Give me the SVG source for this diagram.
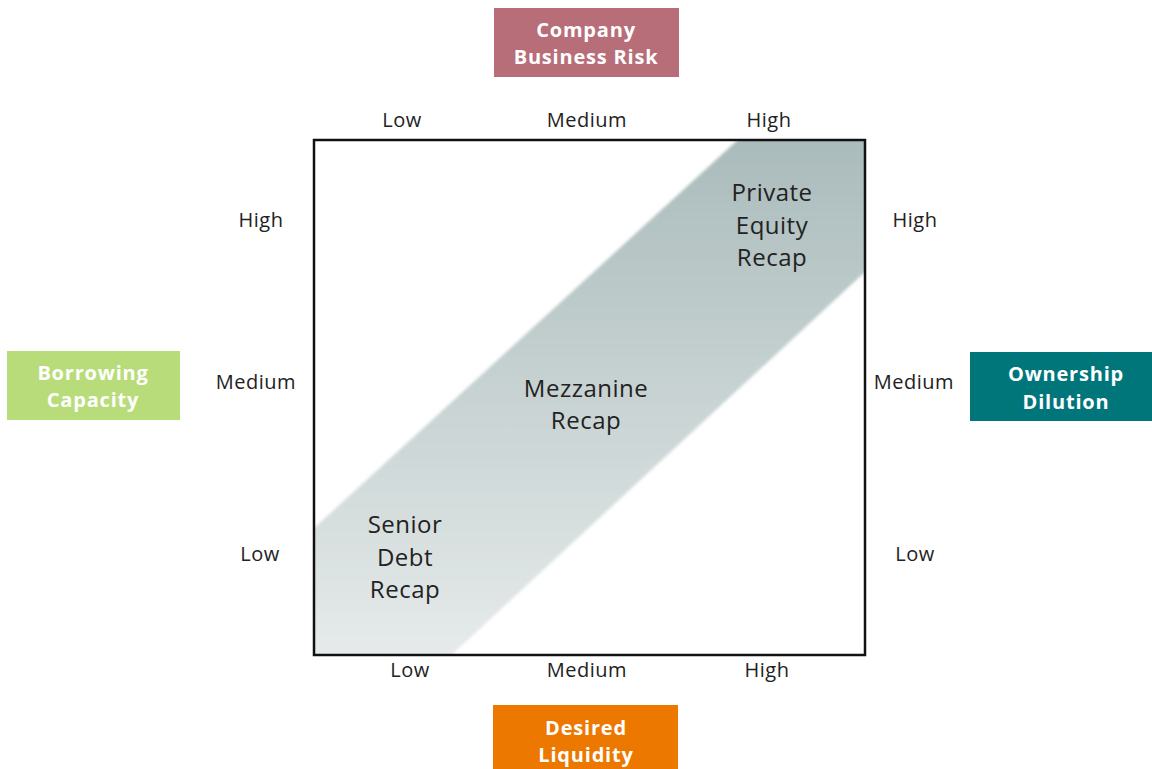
<svg xmlns="http://www.w3.org/2000/svg" width="1152" height="769" viewBox="0 0 1152 769">
  <style>
    .axis { font-family: "Open Sans", Lato, "Liberation Sans", sans-serif; font-size: 20px; letter-spacing: 0.5px; fill: #222; text-anchor: middle; dominant-baseline: central; }
    .zone { font-family: "Open Sans", Lato, "Liberation Sans", sans-serif; font-size: 24px; letter-spacing: 0.5px; fill: #222; text-anchor: middle; dominant-baseline: central; }
    .head { font-family: "Open Sans", Lato, "Liberation Sans", sans-serif; font-size: 20px; letter-spacing: 0.8px; font-weight: bold; fill: #fff; text-anchor: middle; dominant-baseline: central; }
  </style>
  <defs>
    <linearGradient id="band" x1="0" y1="140" x2="0" y2="655" gradientUnits="userSpaceOnUse">
      <stop offset="0" stop-color="#aabbbb"/>
      <stop offset="1" stop-color="#e6eaea"/>
    </linearGradient>
    <clipPath id="boxclip">
      <rect x="314" y="140" width="551" height="515"/>
    </clipPath>
    <filter id="soft" x="-5%" y="-5%" width="110%" height="110%">
      <feGaussianBlur stdDeviation="1.5"/>
    </filter>
  </defs>
  <rect width="1152" height="769" fill="#fff"/>

  <g id="matrix">
    <g clip-path="url(#boxclip)">
      <polygon points="300,541 742,136 880,136 880,258 446,660 300,660" fill="url(#band)" filter="url(#soft)"/>
    </g>
    <rect x="314" y="140" width="551" height="515" fill="none" stroke="#111" stroke-width="2.5"/>
  </g>

  <g id="zone-private-equity">
    <text class="zone" x="772" y="191">Private</text>
    <text class="zone" x="772" y="224">Equity</text>
    <text class="zone" x="772" y="256">Recap</text>
  </g>
  <g id="zone-mezzanine">
    <text class="zone" x="586" y="387">Mezzanine</text>
    <text class="zone" x="586" y="419">Recap</text>
  </g>
  <g id="zone-senior-debt">
    <text class="zone" x="405" y="523">Senior</text>
    <text class="zone" x="405" y="556">Debt</text>
    <text class="zone" x="405" y="588">Recap</text>
  </g>

  <g id="axis-top">
    <text class="axis" x="402" y="119">Low</text>
    <text class="axis" x="587" y="119">Medium</text>
    <text class="axis" x="769" y="119">High</text>
  </g>
  <g id="axis-bottom">
    <text class="axis" x="410" y="669">Low</text>
    <text class="axis" x="587" y="669">Medium</text>
    <text class="axis" x="767" y="669">High</text>
  </g>
  <g id="axis-left">
    <text class="axis" x="261" y="219">High</text>
    <text class="axis" x="256" y="381">Medium</text>
    <text class="axis" x="260" y="553">Low</text>
  </g>
  <g id="axis-right">
    <text class="axis" x="915" y="219">High</text>
    <text class="axis" x="914" y="381">Medium</text>
    <text class="axis" x="915" y="553">Low</text>
  </g>

  <g id="company-business-risk">
    <rect x="494" y="8" width="185" height="69" fill="#b76e79"/>
    <text class="head" x="586" y="29">Company</text>
    <text class="head" x="586" y="56">Business Risk</text>
  </g>
  <g id="borrowing-capacity">
    <rect x="7" y="351" width="173" height="69" fill="#b9dc7a"/>
    <text class="head" x="93" y="372">Borrowing</text>
    <text class="head" x="93" y="399">Capacity</text>
  </g>
  <g id="ownership-dilution">
    <rect x="970" y="352" width="182" height="69" fill="#00767b"/>
    <text class="head" x="1066" y="373">Ownership</text>
    <text class="head" x="1066" y="401">Dilution</text>
  </g>
  <g id="desired-liquidity">
    <rect x="493" y="705" width="185" height="64" fill="#ed7800"/>
    <text class="head" x="586" y="727">Desired</text>
    <text class="head" x="586" y="754">Liquidity</text>
  </g>

  <g id="connectors"/>
</svg>
